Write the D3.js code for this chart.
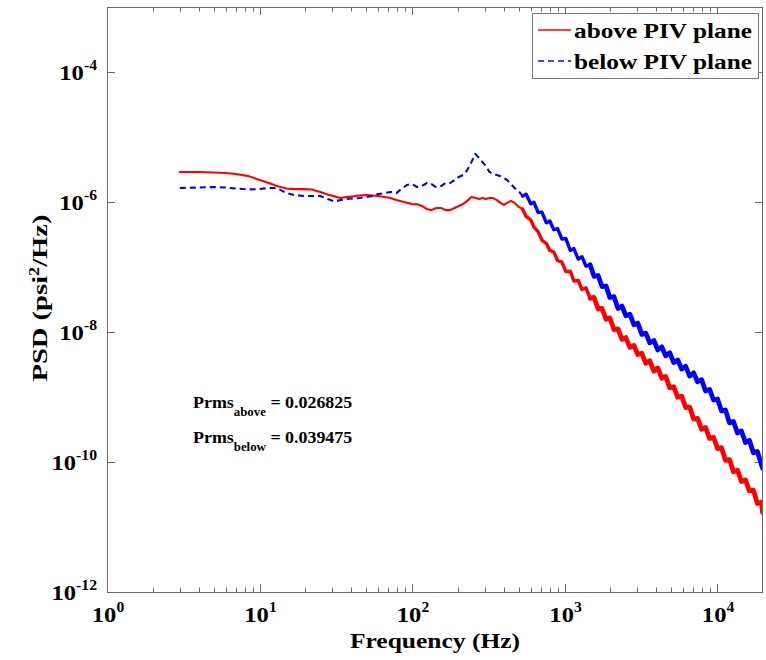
<!DOCTYPE html>
<html>
<head>
<meta charset="utf-8">
<script src="https://cdn.jsdelivr.net/npm/d3@7/dist/d3.min.js"></script>
<style>
  html, body { margin: 0; padding: 0; background: #fff; }
  text { font-family: "Liberation Serif", "Times New Roman", serif; font-weight: bold; fill: #000; }
</style>
</head>
<body>
<script>
// Frequency grid (Hz) shared by both pressure-transducer spectra
const freq = [
  3, 4, 5, 6, 7, 8.5, 10, 11.5, 13, 15, 17, 19.5, 22, 25, 28, 31, 34, 37, 41, 45,
  50, 55, 60, 66, 72, 79, 86, 93, 100, 108, 116, 125, 134, 144, 155, 166, 178, 190, 203, 216,
  230, 245, 260, 275, 290, 305, 322, 340, 360, 380, 400, 420, 445, 470, 500,
  530, 560, 600, 630, 670, 710, 760, 800, 850, 900, 960, 1020, 1090, 1150, 1230, 1300, 1380,
  1470, 1560, 1660, 1760, 1870, 1980, 2110, 2240, 2380, 2520, 2680, 2850, 3020, 3210, 3410,
  3620, 3850, 4080, 4340, 4600, 4890, 5190, 5520, 5860, 6220, 6610, 7020, 7450, 7910, 8400,
  8930, 9480, 10070, 10690, 11350, 12060, 12800, 13600, 14440, 15340, 16290, 17300, 18370,
  19510, 19900
];

// PSD above the PIV plane (psi^2/Hz)
const psdAbove = [
  2.9e-6, 2.9e-6, 2.85e-6, 2.8e-6, 2.7e-6, 2.5e-6, 2.18e-6, 1.96e-6, 1.76e-6, 1.61e-6,
  1.58e-6, 1.58e-6, 1.56e-6, 1.43e-6, 1.30e-6, 1.22e-6, 1.15e-6, 1.19e-6, 1.22e-6, 1.26e-6,
  1.28e-6, 1.26e-6, 1.24e-6, 1.19e-6, 1.15e-6, 1.07e-6, 1.02e-6, 9.7e-7, 9.3e-7, 9.2e-7,
  8.7e-7, 7.8e-7, 7.5e-7, 8.1e-7, 8.1e-7, 7.5e-7, 7.5e-7, 8.1e-7, 8.7e-7, 9.3e-7,
  1.04e-6, 1.19e-6, 1.15e-6, 1.11e-6, 1.15e-6, 1.11e-6, 1.15e-6, 1.15e-6, 1.07e-6, 9.7e-7,
  9.0e-7, 9.7e-7, 1.04e-6, 9.7e-7, 8.4e-7,
  7.8e-7, 6.0e-7, 5.3e-7, 4.1e-7, 3.5e-7, 2.6e-7, 2.3e-7, 1.8e-7, 1.7e-7, 1.26e-7,
  1.19e-7, 8.5e-8, 8.6e-8, 6.1e-8, 6.2e-8, 4.5e-8, 4.8e-8, 3.3e-8, 3.4e-8, 2.26e-8,
  2.3e-8, 1.57e-8, 1.64e-8, 1.09e-8, 1.12e-8, 7.7e-9, 8.2e-9, 5.8e-9, 6.2e-9, 4.5e-9,
  4.7e-9, 3.3e-9, 3.6e-9, 2.5e-9, 2.8e-9, 1.95e-9, 2.07e-9, 1.39e-9, 1.44e-9, 9.9e-10,
  1.03e-9, 6.9e-10, 7.0e-10, 4.6e-10, 4.7e-10, 3.2e-10, 3.4e-10, 2.3e-10, 2.4e-10, 1.61e-10,
  1.66e-10, 1.06e-10, 1.09e-10, 7.1e-11, 7.5e-11, 5.0e-11, 5.3e-11, 3.6e-11, 3.7e-11, 2.3e-11,
  2.4e-11, 1.66e-11
];

// PSD below the PIV plane (psi^2/Hz)
const psdBelow = [
  1.64e-6, 1.67e-6, 1.70e-6, 1.67e-6, 1.61e-6, 1.56e-6, 1.58e-6, 1.64e-6, 1.64e-6, 1.37e-6,
  1.28e-6, 1.24e-6, 1.24e-6, 1.24e-6, 1.11e-6, 1.02e-6, 1.07e-6, 1.11e-6, 1.13e-6, 1.15e-6,
  1.19e-6, 1.24e-6, 1.33e-6, 1.37e-6, 1.43e-6, 1.37e-6, 1.64e-6, 1.83e-6, 1.89e-6, 1.70e-6,
  1.76e-6, 1.96e-6, 1.89e-6, 1.70e-6, 1.76e-6, 1.96e-6, 1.96e-6, 2.18e-6, 2.43e-6, 2.6e-6,
  3.1e-6, 4.1e-6, 5.5e-6, 4.75e-6, 4.1e-6, 3.58e-6, 2.9e-6, 2.7e-6, 2.6e-6, 2.5e-6,
  2.34e-6, 2.18e-6, 1.89e-6, 1.64e-6, 1.48e-6,
  1.24e-6, 1.32e-6, 9.4e-7, 9.9e-7, 6.9e-7, 7.0e-7, 4.8e-7, 5.1e-7, 3.75e-7, 3.9e-7,
  2.7e-7, 2.74e-7, 1.8e-7, 1.92e-7, 1.32e-7, 1.44e-7, 1.03e-7, 1.08e-7, 7.2e-8, 7.4e-8,
  5.0e-8, 5.1e-8, 3.4e-8, 3.5e-8, 2.3e-8, 2.5e-8, 1.78e-8, 1.88e-8, 1.29e-8, 1.37e-8,
  9.2e-9, 9.6e-9, 6.8e-9, 7.4e-9, 5.3e-9, 5.9e-9, 4.3e-9, 4.8e-9, 3.4e-9, 3.7e-9,
  2.7e-9, 2.96e-9, 2.1e-9, 2.35e-9, 1.72e-9, 1.85e-9, 1.24e-9, 1.31e-9, 9.0e-10, 9.3e-10,
  6.1e-10, 6.3e-10, 4.0e-10, 4.2e-10, 2.8e-10, 3.0e-10, 2.0e-10, 2.15e-10, 1.39e-10, 1.45e-10,
  9.2e-11, 7.9e-11
];

const seriesNames = ["above PIV plane", "below PIV plane"];
const seriesColors = ["#ff0000", "#0000ff"];
const xTickValues = [1, 10, 100, 1000, 10000];
const xTickExps = ["0", "1", "2", "3", "4"];
const yTickValues = [1e-12, 1e-10, 1e-8, 1e-6, 1e-4];
const yTickExps = ["-12", "-10", "-8", "-6", "-4"];
const prmsNames = ["above", "below"];
const prmsValues = ["0.026825", "0.039475"];

const W = 766, H = 660;
const plot = { left: 107, right: 763, top: 7, bottom: 592 };

const svg = d3.select("body").append("svg").attr("width", W).attr("height", H);
svg.append("rect").attr("width", W).attr("height", H).attr("fill", "#fff");

const x = d3.scaleLog().domain([1, 2e4]).range([plot.left, plot.right]);
const y = d3.scaleLog().domain([1e-12, 1e-3]).range([plot.bottom, plot.top]);

svg.append("defs").append("clipPath").attr("id", "plotClip")
  .append("rect").attr("x", plot.left).attr("y", plot.top)
  .attr("width", plot.right - plot.left).attr("height", plot.bottom - plot.top);

const axisColor = "#6a6a6a";

// Ticks on all four sides, pointing inward
const xMinor = [];
for (let dec = 1; dec <= 10000; dec *= 10) {
  for (let m = 2; m <= 9; m++) { const v = dec * m; if (v < 2e4) xMinor.push(v); }
}
const tickG = svg.append("g").attr("stroke", axisColor).attr("stroke-width", 1);
xMinor.forEach(v => {
  const px = Math.round(x(v)) + 0.5;
  tickG.append("line").attr("x1", px).attr("x2", px).attr("y1", plot.bottom).attr("y2", plot.bottom - 4.5);
  tickG.append("line").attr("x1", px).attr("x2", px).attr("y1", plot.top).attr("y2", plot.top + 4.5);
});
xTickValues.forEach(v => {
  const px = Math.round(x(v)) + 0.5;
  tickG.append("line").attr("x1", px).attr("x2", px).attr("y1", plot.bottom).attr("y2", plot.bottom - 8);
  tickG.append("line").attr("x1", px).attr("x2", px).attr("y1", plot.top).attr("y2", plot.top + 8);
});
yTickValues.forEach(v => {
  const py = Math.round(y(v)) + 0.5;
  tickG.append("line").attr("x1", plot.left).attr("x2", plot.left + 8).attr("y1", py).attr("y2", py);
  tickG.append("line").attr("x1", plot.right).attr("x2", plot.right - 8).attr("y1", py).attr("y2", py);
});

// Curves: the dense, noisy high-frequency part renders as a thicker band.
// Band edges are grid frequencies so consecutive pieces share an endpoint.
const pts = (vals) => freq.map((f, i) => ({ f, p: vals[i] }));
const line = d3.line().x(d => x(d.f)).y(d => y(d.p));
const bands = [
  { lo: 0, hi: 530, w: 2.1 },
  { lo: 530, hi: 1470, w: 3.4 },
  { lo: 1470, hi: 1e9, w: 4.8 }
];
const curveG = svg.append("g").attr("clip-path", "url(#plotClip)");
[psdAbove, psdBelow].forEach((vals, s) => {
  const all = pts(vals);
  bands.forEach((b, bi) => {
    const seg = all.filter(d => d.f >= b.lo && d.f <= b.hi);
    const dashed = s === 1 && bi === 0;
    curveG.append("path").datum(seg)
      .attr("d", line).attr("fill", "none").attr("stroke", seriesColors[s])
      .attr("stroke-width", b.w).attr("stroke-linejoin", "round")
      .attr("stroke-linecap", dashed ? "butt" : "round")
      .attr("stroke-dasharray", dashed ? "6,4" : null);
  });
});

// Frame
svg.append("rect").attr("x", plot.left + 0.5).attr("y", plot.top + 0.5)
  .attr("width", plot.right - plot.left - 1).attr("height", plot.bottom - plot.top)
  .attr("fill", "none").attr("stroke", axisColor).attr("stroke-width", 1);

// Text helper: glyphs set a little wide along the writing direction
function wideText(px, py, anchor, k, rot) {
  const tf = `translate(${px},${py})` + (rot ? ` rotate(${rot})` : "") + ` scale(${k},1)`;
  return svg.append("g").attr("transform", tf).append("text").attr("text-anchor", anchor);
}

// X tick labels: 10^n
xTickValues.forEach((v, i) => {
  const t = wideText(x(v) + 1, 622, "middle", 1.12).style("font-size", "22px");
  t.append("tspan").text("10");
  t.append("tspan").attr("dy", -10).style("font-size", "14px").text(xTickExps[i]);
});

// Y tick labels
yTickValues.forEach((v, i) => {
  const t = wideText(97, y(v) + 8, "end", 1.12).style("font-size", "22px");
  t.append("tspan").text("10");
  t.append("tspan").attr("dy", -10).style("font-size", "14px").text(yTickExps[i]);
});

// Axis titles
wideText(435, 648, "middle", 1.16).style("font-size", "22px").text("Frequency (Hz)");

const yTitle = wideText(47, 298, "middle", 1.3, -90).style("font-size", "22px");
yTitle.append("tspan").text("PSD (psi");
yTitle.append("tspan").attr("dy", -8).style("font-size", "14px").text("2");
yTitle.append("tspan").attr("dy", 8).text("/Hz)");

// RMS pressure annotations
prmsNames.forEach((nm, i) => {
  const t = wideText(193, 408 + i * 35, "start", 1.12).style("font-size", "16px");
  t.append("tspan").text("Prms");
  t.append("tspan").attr("dy", 8).style("font-size", "11.5px").text(nm);
  t.append("tspan").attr("dy", -8).text(" = " + prmsValues[i]);
});

// Legend
const lg = svg.append("g");
lg.append("rect").attr("x", 532.5).attr("y", 13.5).attr("width", 226).attr("height", 65)
  .attr("fill", "#fff").attr("stroke", "#7a7a7a").attr("stroke-width", 1);
seriesNames.forEach((nm, i) => {
  const ly = 30 + i * 31;
  lg.append("line").attr("x1", 538).attr("x2", 571).attr("y1", ly).attr("y2", ly)
    .attr("stroke", seriesColors[i]).attr("stroke-width", 1.6)
    .attr("stroke-dasharray", i === 1 ? "6,4" : null);
  wideText(574, ly + 8, "start", 1.15).style("font-size", "22px").text(nm);
});
</script>
</body>
</html>
